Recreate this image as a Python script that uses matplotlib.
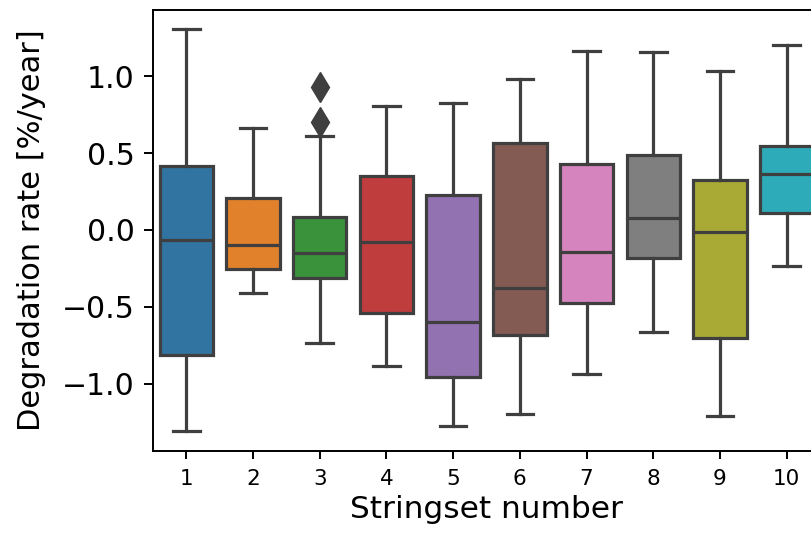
import matplotlib
matplotlib.use("Agg")
import matplotlib.pyplot as plt

# box statistics (degradation rate, %/year)
stringsets = ["1", "2", "3", "4", "5", "6", "7", "8", "9", "10"]
whisker_low = [-1.311, -0.412, -0.734, -0.888, -1.274, -1.196, -0.940, -0.666, -1.211, -0.234]
q1 = [-0.814, -0.254, -0.310, -0.543, -0.955, -0.684, -0.473, -0.184, -0.705, 0.109]
median = [-0.065, -0.098, -0.148, -0.080, -0.599, -0.380, -0.145, 0.080, -0.015, 0.363]
q3 = [0.417, 0.210, 0.087, 0.352, 0.230, 0.564, 0.430, 0.488, 0.326, 0.549]
whisker_high = [1.307, 0.662, 0.612, 0.809, 0.827, 0.983, 1.168, 1.159, 1.033, 1.207]
outliers = [[], [], [0.929, 0.705], [], [], [], [], [], [], []]

colors = ["#3274a1", "#e1812c", "#3a923a", "#c03d3e", "#9372b2",
          "#845b53", "#d684bd", "#7f7f7f", "#a9aa35", "#2eabb8"]
line_col = "#3f3f3f"

stats = []
for i in range(len(stringsets)):
    stats.append({"whislo": whisker_low[i], "q1": q1[i], "med": median[i],
                  "q3": q3[i], "whishi": whisker_high[i], "fliers": outliers[i]})

fig = plt.figure(figsize=(8.11, 5.35), dpi=100)
# axes run a little past the right edge, as in the cropped reference
ax = fig.add_axes([153 / 811, 84 / 535, 667 / 811, 441 / 535])

lw = 2.3
bp = ax.bxp(stats, positions=range(len(stringsets)), widths=0.8, patch_artist=True,
            capwidths=0.4,
            boxprops=dict(edgecolor=line_col, linewidth=lw),
            medianprops=dict(color=line_col, linewidth=lw),
            whiskerprops=dict(color=line_col, linewidth=lw),
            capprops=dict(color=line_col, linewidth=lw),
            flierprops=dict(marker="d", markersize=15, markerfacecolor=line_col,
                            markeredgecolor=line_col))
for patch, c in zip(bp["boxes"], colors):
    patch.set_facecolor(c)

ax.set_xlim(-0.5, 9.5)
ax.set_ylim(-1.439, 1.432)
ax.set_yticks([-1.0, -0.5, 0.0, 0.5, 1.0])
ax.set_xticks(range(len(stringsets)))
ax.set_xticklabels(stringsets)
ax.tick_params(axis="y", labelsize=21.5, length=6.3, width=1.4, pad=7)
ax.tick_params(axis="x", labelsize=15.5, length=6, width=1.4, pad=7)
for s in ax.spines.values():
    s.set_linewidth(1.4)

ax.set_ylabel("Degradation rate [%/year]", fontsize=22, labelpad=11)
ax.set_xlabel("Stringset number", fontsize=22.5, labelpad=4)

fig.savefig("out.png", dpi=100)
